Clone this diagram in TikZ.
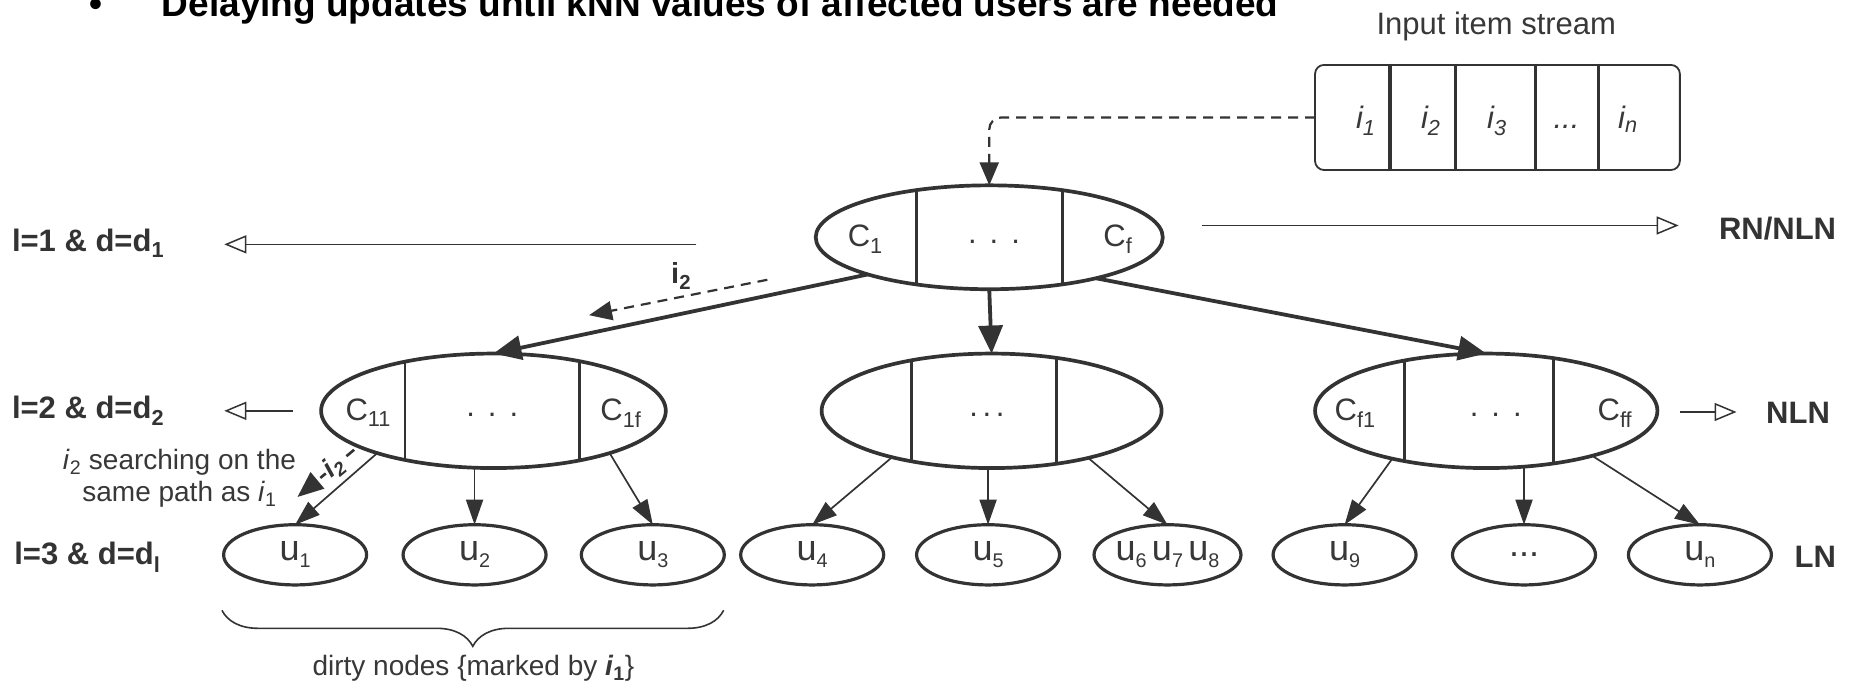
\documentclass[tikz,border=0pt]{standalone}
\usepackage{graphicx}
\usepackage{fontspec}
\setmainfont{Liberation Sans}
\usetikzlibrary{arrows.meta,shapes.geometric,decorations.pathreplacing}
\definecolor{ink}{HTML}{333333}
\definecolor{txt}{HTML}{383838}
\tikzset{
 titlefont/.style={font=\fontsize{37}{40}\selectfont\bfseries, text=black},
 bigell/.style={ellipse, draw=ink, line width=3.7pt, inner sep=0pt, outer sep=0pt},
 leaf/.style={ellipse, draw=ink, line width=3.2pt, inner sep=0pt, outer sep=0pt, minimum width=143pt, minimum height=60.2pt, font=\fontsize{36}{40}\selectfont, text=txt},
 divider/.style={draw=ink, line width=2.6pt},
 qdivider/.style={draw=ink, line width=3.2pt},
 thickarrow/.style={draw=ink, line width=3.8pt, -{Triangle[length=28pt,width=24pt]}},
 thinarrow/.style={draw=ink, line width=1.7pt, -{Triangle[length=25pt,width=17pt]}},
 openarrow/.style={draw=ink, line width=1.5pt, -{Triangle[open,length=22pt,width=18pt]}},
 dasharrow/.style={draw=ink, line width=2.2pt, dash pattern=on 10pt off 7pt, -{Triangle[length=23pt,width=19pt]}},
 clbl/.style={font=\fontsize{31}{34}\selectfont, text=txt, inner sep=0pt},
 ilbl/.style={font=\fontsize{31}{34}\selectfont\itshape, text=txt, inner sep=0pt},
 blbl/.style={font=\fontsize{31}{34}\selectfont\bfseries, text=ink, inner sep=0pt},
 nlbl/.style={font=\fontsize{28}{32}\selectfont, text=txt, inner sep=0pt},
}
\newcommand\ls[1]{\raisebox{-0.2em}{\scalebox{0.55}{#1}}}
\newcommand\splitell[7]{%
 \node[bigell, minimum width={2*#4*1.1805pt}, minimum height={2*#5*1.1805pt}] (#1) at (#2,#3) {};
 \begin{scope}
  \clip (#2,#3) ellipse [x radius={#4*1.1805pt}, y radius={#5*1.1805pt}];
  \draw[divider] (#6,#3-#5-3) -- (#6,#3+#5+3);
  \draw[divider] (#7,#3-#5-3) -- (#7,#3+#5+3);
 \end{scope}
}
\begin{document}
\begin{tikzpicture}[x=1.1805pt, y=-1.1805pt]
\useasboundingbox (0,0) rectangle (1568,579);
\fill[white] (0,0) rectangle (1568,579);

% title
\node[titlefont, anchor=base west, inner sep=0pt] (title) at (137,14) {Delaying updates until kNN values of affected users are needed};
\node[titlefont, anchor=base, inner sep=0pt] (bullet) at (81,14) {•};

% input stream
\node[clbl, anchor=base] (streamlbl) at (1267.5,29.6) {Input item stream};
\node[draw=ink, line width=1.8pt, rounded corners=9pt, minimum width=364.8pt, minimum height=105.1pt, inner sep=0pt, outer sep=0pt] (queue) at (1268.5,99.5) {};
\foreach \x in {1177.5,1233,1301,1354} \draw[qdivider] (\x,54) -- (\x,145);
\node[ilbl, anchor=base] (i1) at (1157,109) {i\textsubscript{1}};
\node[ilbl, anchor=base] (i2) at (1212,109) {i\textsubscript{2}};
\node[ilbl, anchor=base] (i3) at (1268,109) {i\textsubscript{3}};
\node[ilbl, anchor=base] (idots) at (1327,109) {...};
\node[ilbl, anchor=base] (in) at (1379,109) {i\textsubscript{n}};

% tree ellipses
\splitell{root}{838}{201}{147}{44}{776.5}{900}
\splitell{l2a}{418}{348}{146}{48.5}{343}{491}
\splitell{l2b}{840}{348}{144}{48.5}{772}{895}
\splitell{l2c}{1259}{348}{145}{48.5}{1190}{1316}

\node[clbl, anchor=base] (c1) at (733,209) {C\textsubscript{1}};
\node[clbl, anchor=base] (rootdots) at (842,206) {.\hspace{0.42em}.\hspace{0.42em}.};
\node[clbl, anchor=base] (cf) at (947,209) {C\textsubscript{f}};

\node[clbl, anchor=base] (c11) at (312,356) {C\textsubscript{11}};
\node[clbl, anchor=base] (l2adots) at (417,353) {.\hspace{0.42em}.\hspace{0.42em}.};
\node[clbl, anchor=base] (c1f) at (526,356) {C\textsubscript{1f}};

\node[clbl, anchor=base] (l2bdots) at (836,353) {.\hspace{0.15em}.\hspace{0.15em}.};

\node[clbl, anchor=base] (cf1) at (1148,356) {C\textsubscript{f1}};
\node[clbl, anchor=base] (l2cdots) at (1267,353) {.\hspace{0.42em}.\hspace{0.42em}.};
\node[clbl, anchor=base] (cff) at (1368,356) {C\textsubscript{ff}};

% leaves
\node[leaf] (u1) at (250,470) {u\ls{1}};
\node[leaf] (u2) at (402,470) {u\ls{2}};
\node[leaf] (u3) at (553,470) {u\ls{3}};
\node[leaf] (u4) at (688,470) {u\ls{4}};
\node[leaf] (u5) at (837,470) {u\ls{5}};
\node[leaf] (u678) at (989,470) {u\ls{6}\hspace{0.15em}u\ls{7}\hspace{0.15em}u\ls{8}};
\node[leaf] (u9) at (1139,470) {u\ls{9}};
\node[leaf] (ldots) at (1291,470) {...};
\node[leaf] (un) at (1440,470) {u\ls{n}};

% stream connector
\draw[dasharrow, rounded corners=12pt] (queue.west) -| (root.north);

% tree connectors
\draw[thickarrow] (root.197) -- (l2a.north);
\draw[thickarrow] (root.south) -- (l2b.north);
\draw[thickarrow] (root.-21) -- (l2c.north);

\draw[thinarrow] (l2a.200) -- (u1.north);
\draw[thinarrow] (u2.north |- l2a.south) -- (u2.north);
\draw[thinarrow] (l2a.340) -- (u3.north);
\draw[thinarrow] (l2b.205) -- (u4.north);
\draw[thinarrow] (u5.north |- l2b.south) -- (u5.north);
\draw[thinarrow] (l2b.334) -- (u678.north);
\draw[thinarrow] (l2c.207) -- (u9.north);
\draw[thinarrow] (ldots.north |- l2c.south) -- (ldots.north);
\draw[thinarrow] (l2c.337) -- (un.north);

% i2 arrows
\node[font=\fontsize{29}{32}\selectfont\bfseries, text=ink] (i2a) at (577,234) {i\textsubscript{2}};
\coordinate (d1s) at (650,237);
\coordinate (d1e) at (499,267);
\draw[dasharrow] (d1s) -- (d1e);

\coordinate (s2a) at (300,381);
\coordinate (s2b) at (252,421);
\draw[dasharrow, line width=2.6pt, -{Triangle[length=26pt,width=21pt]}] (s2a) -- node[pos=0.36, sloped, fill=white, inner sep=1pt, font=\fontsize{27}{30}\selectfont\bfseries\itshape, text=ink] (i2b) {i\textsubscript{2}} (s2b);

\node[nlbl, align=center] (search) at (152,405) {\textit{i}\textsubscript{2} searching on the\\same path as \textit{i}\textsubscript{1}};

% level labels
\node[blbl, anchor=west] (lv1) at (10,206) {l=1 \& d=d\textsubscript{1}};
\node[blbl, anchor=west] (lv2) at (10,348) {l=2 \& d=d\textsubscript{2}};
\node[blbl, anchor=west] (lv3) at (12,472) {l=3 \& d=d\textsubscript{l}};
\node[blbl, anchor=west] (rn) at (1456,194) {RN/NLN};
\node[blbl, anchor=west] (nln) at (1496,350) {NLN};
\node[blbl, anchor=west] (ln) at (1520,472) {LN};

\coordinate (a1s) at (590,207); \coordinate (a1e) at (190,207);
\draw[openarrow] (a1s) -- (a1e);
\coordinate (a2s) at (248,348); \coordinate (a2e) at (190,348);
\draw[openarrow] (a2s) -- (a2e);
\coordinate (a3s) at (1018,191); \coordinate (a3e) at (1422,191);
\draw[openarrow] (a3s) -- (a3e);
\coordinate (a4s) at (1423,349); \coordinate (a4e) at (1471,349);
\draw[openarrow] (a4s) -- (a4e);

% brace
\coordinate (brl) at (188,517); \coordinate (brr) at (613,517);
\draw[ink, line width=1.6pt, decorate, decoration={brace, mirror, amplitude=36pt}] (brl) -- (brr);
\node[nlbl, anchor=base] (dirty) at (401,572) {dirty nodes \{marked by \textbf{\textit{i}\textsubscript{1}}\}};
\end{tikzpicture}
\end{document}
